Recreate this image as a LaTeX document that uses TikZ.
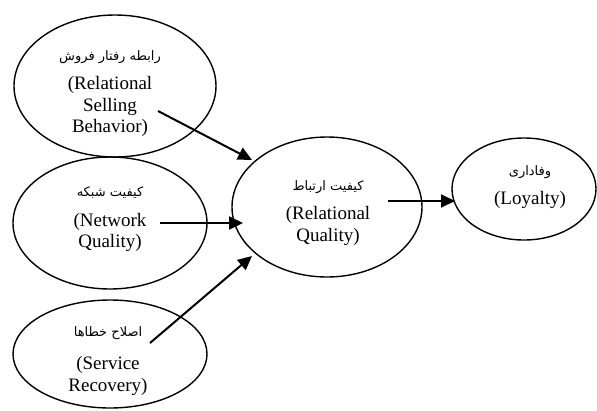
\documentclass[tikz,border=0pt]{standalone}
\usepackage{fontspec}
\setmainfont{Liberation Serif}
\newfontfamily\arabicfont[Script=Arabic]{DejaVu Sans}
\TeXXeTstate=1
\usetikzlibrary{shapes.geometric,arrows.meta}
\begin{document}
\begin{tikzpicture}[x=1pt,y=-1pt,
  oval/.style={ellipse, draw, line width=1.4pt, inner sep=0pt},
  lat/.style={font=\fontsize{19}{21.7}\selectfont, align=center, inner sep=0pt},
  fa/.style={font=\arabicfont\fontsize{13}{15}\selectfont, inner sep=0pt},
  arr/.style={line width=2pt, -{Triangle[length=14pt,width=13pt]}}]
\useasboundingbox (0,0) rectangle (597,410);
% ellipses
\node[oval, minimum width=202pt, minimum height=142pt] (e1) at (115,86) {};
\node[oval, minimum width=194pt, minimum height=132pt] (e2) at (110,223) {};
\node[oval, minimum width=194pt, minimum height=108pt] (e3) at (110,354) {};
\node[oval, minimum width=190pt, minimum height=140pt] (rq) at (327,207) {};
\node[oval, minimum width=144pt, minimum height=102pt] (ly) at (524,189) {};
% texts
\node[fa] (t1f) at (110,57) {\beginR رابطه رفتار فروش\endR};
\node[lat] (t1e) at (110,106.5) {(Relational\\Selling\\Behavior)};
\node[fa] (t2f) at (110,193) {\beginR کیفیت شبکه\endR};
\node[lat] (t2e) at (110,232.5) {(Network\\Quality)};
\node[fa] (t3f) at (108,333) {\beginR اصلاح خطاها\endR};
\node[lat] (t3e) at (108,376) {(Service\\Recovery)};
\node[fa] (t4f) at (328,187) {\beginR کیفیت ارتباط\endR};
\node[lat] (t4e) at (328,226) {(Relational\\Quality)};
\node[fa] (t5f) at (530,172) {\beginR وفاداری\endR};
\node[lat] (t5e) at (530,200) {(Loyalty)};
% arrow end points
\coordinate (a1s) at (158,111);
\coordinate (a1e) at (252,160);
\coordinate (a2s) at (160,223);
\coordinate (a2e) at (243,223);
\coordinate (a3s) at (150,343);
\coordinate (a3e) at (252,256);
\coordinate (a4s) at (388,201);
\coordinate (a4e) at (455,201);
\draw[arr] (a1s) -- (a1e);
\draw[arr] (a2s) -- (a2e);
\draw[arr] (a3s) -- (a3e);
\draw[arr] (a4s) -- (a4e);
\end{tikzpicture}
\end{document}
